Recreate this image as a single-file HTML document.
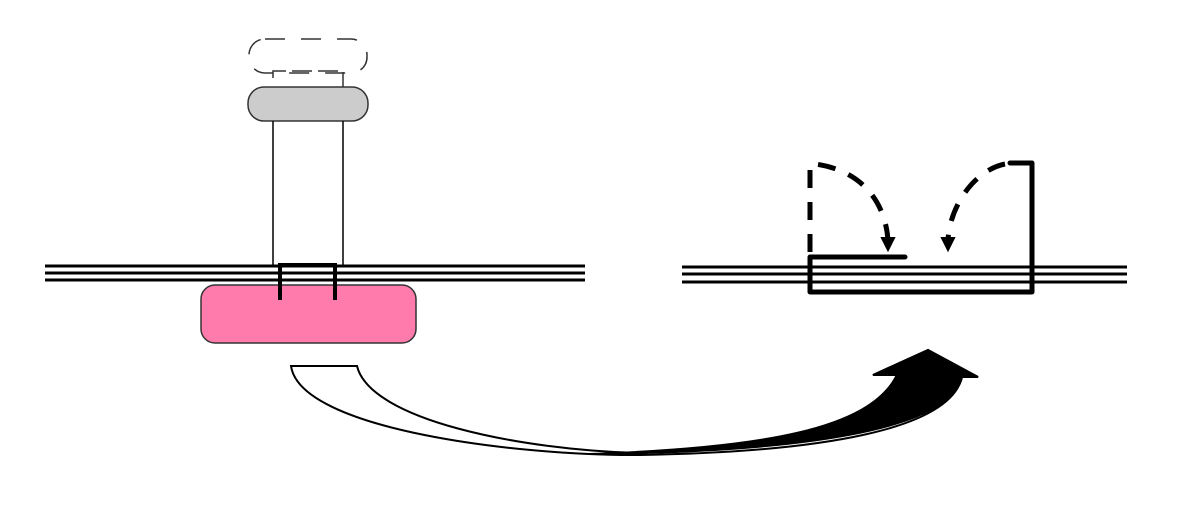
<!DOCTYPE html>
<html><head><style>body{margin:0;background:#fff}svg{display:block}</style></head>
<body>
<svg width="1188" height="512" viewBox="0 0 1188 512" xmlns="http://www.w3.org/2000/svg">
<g stroke="#000" stroke-width="3">
<line x1="45" y1="266" x2="585" y2="266"/><line x1="45" y1="273" x2="585" y2="273"/><line x1="45" y1="280" x2="585" y2="280"/>
<line x1="682" y1="267" x2="1127" y2="267"/><line x1="682" y1="274" x2="1127" y2="274"/><line x1="682" y1="282" x2="1127" y2="282"/>
</g>
<rect x="249" y="39" width="118" height="34" rx="16" fill="none" stroke="#333" stroke-width="1.5" stroke-dasharray="20,16"/>
<path d="M273,78 V71 H343 V88" fill="none" stroke="#333" stroke-width="1.5" stroke-dasharray="20,6"/>
<rect x="248" y="87" width="120" height="34" rx="16" fill="#ccc" stroke="#333" stroke-width="1.5"/>
<line x1="273" y1="121" x2="273" y2="265" stroke="#000" stroke-width="1.5"/>
<line x1="343" y1="121" x2="343" y2="265" stroke="#000" stroke-width="1.5"/>
<rect x="201" y="285" width="215" height="58" rx="14" fill="#ff7bac" stroke="#333" stroke-width="1.5"/>
<path d="M280,300 V265 H335 V300" fill="none" stroke="#000" stroke-width="4"/>
<g fill="none" stroke="#000" stroke-width="5" stroke-linecap="round" stroke-linejoin="round">
<path d="M905,257 H810 V292 H1032 V163 H1010"/>
</g>
<g fill="none" stroke="#000" stroke-width="5" stroke-dasharray="18,14">
<path d="M810,252 V164 H815 C860,170 885,200 888,240"/>
<path d="M1005,164 C975,170 950,205 948,240"/>
</g>
<path d="M882,238 L888,250 L894,238 Z M942,238 L948,250 L954,238 Z" fill="#000" stroke="#000" stroke-width="2"/>
<path d="M291,366 C300,430 520,456 640,455 C820,452 950,430 962,377 L978,377 L928,350 L873,375 L897,375 C870,430 760,448 640,453 C520,450 370,420 357,366 Z" fill="#fff" stroke="#000" stroke-width="2"/>
<path d="M590,454 C800,452 950,430 962,377 L978,377 L928,350 L873,375 L897,375 C870,430 760,448 590,454 Z" fill="#000" stroke="#000" stroke-width="2"/>
</svg>
</body></html>
